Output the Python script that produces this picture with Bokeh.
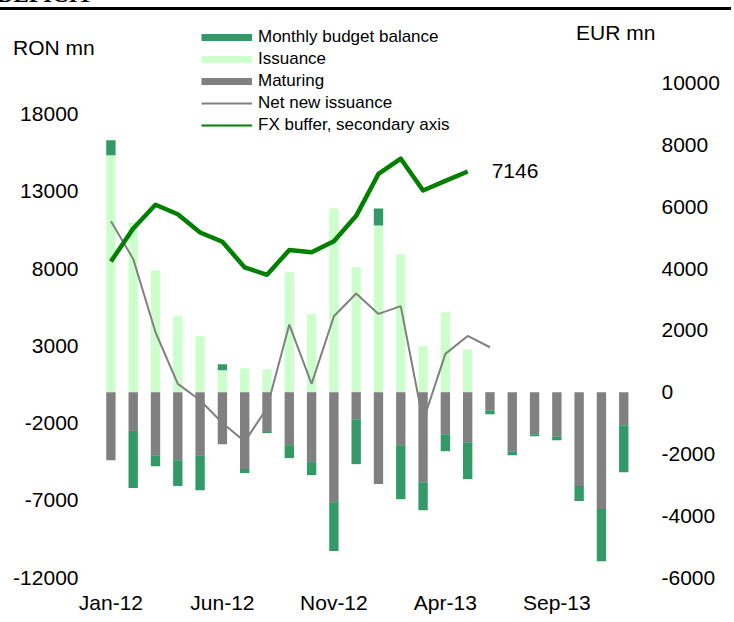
import numpy as np
from bokeh.plotting import figure
from bokeh.models import (Range1d, LinearAxis, FixedTicker, Legend, LegendItem,
                          Label, Div, ColumnDataSource)
from bokeh.layouts import column
from bokeh.embed import file_html
from bokeh.resources import INLINE

# ---------------- data ----------------
months = ["Jan-12", "Feb-12", "Mar-12", "Apr-12", "May-12", "Jun-12",
          "Jul-12", "Aug-12", "Sep-12", "Oct-12", "Nov-12", "Dec-12",
          "Jan-13", "Feb-13", "Mar-13", "Apr-13", "May-13", "Jun-13",
          "Jul-13", "Aug-13", "Sep-13", "Oct-13", "Nov-13", "Dec-13"]

# RON mn
issuance = [15340, 11000, 7900, 4920, 3620, 1420, 1550, 1490, 7770, 5050,
            11900, 8090, 10800, 8930, 2980, 5180, 2780, 0, 0, 0, 0, 0, 0, 0]
maturing = [4400, 2520, 4080, 4400, 4080, 3370, 4980, 2520, 3430, 4530,
            7120, 1750, 5950, 3430, 5830, 2720, 3240, 1170, 3820, 2720,
            2850, 6080, 7570, 2140]
budget_balance = [970, -3690, -710, -1680, -2270, 390, -260, -130, -840, -840,
                  -3170, -2910, 1100, -3500, -1810, -1100, -2390, -260, -260,
                  -130, -260, -970, -3370, -3040]
net_new_issuance = [11070, 8630, 3880, 540, -520, -2000, -3200, -1030, 4380,
                    540, 4920, 6390, 5070, 5570, -1880, 2480, 3640, 2910]
# EUR mn (secondary axis)
fx_buffer = [4230, 5300, 6070, 5760, 5170, 4870, 4040, 3800, 4600, 4530,
             4890, 5710, 7070, 7560, 6530, 6840, 7146]

left_ticks = [-12000, -7000, -2000, 3000, 8000, 13000, 18000]
right_ticks = [-6000, -4000, -2000, 0, 2000, 4000, 6000, 8000, 10000]
x_tick_labels = ["Jan-12", "Jun-12", "Nov-12", "Apr-13", "Sep-13"]

# ---------------- derived table ----------------
x = np.arange(len(months))
iss = np.array(issuance, dtype=float)
mat = -np.array(maturing, dtype=float)
bal = np.array(budget_balance, dtype=float)
bal_bottom = np.where(bal >= 0, iss, mat + bal)
bal_top = np.where(bal >= 0, iss + bal, mat)

src = ColumnDataSource(dict(x=x, iss=iss, mat=mat, bal_bottom=bal_bottom,
                            bal_top=bal_top, zero=np.zeros(len(x))))

FONT = "Liberation Sans"
FS = "21px"
C_BAL, C_ISS, C_MAT = "#339966", "#CCFFCC", "#808080"
C_NET, C_FX = "#808080", "#008000"

p = figure(width=722, height=603, x_range=Range1d(-1.05, 24.2),
           y_range=Range1d(-12000, 23680), output_backend="svg",
           toolbar_location=None, min_border_left=87, min_border_right=69,
           min_border_top=13, min_border_bottom=37)
p.extra_y_ranges = {"fx": Range1d(-6000, 11840)}
p.outline_line_color = None
p.grid.visible = False
p.background_fill_alpha = 0
p.border_fill_alpha = 0

W = 0.42
r_iss = p.vbar(x="x", bottom="zero", top="iss", width=W, source=src,
               fill_color=C_ISS, line_color=None)
r_mat = p.vbar(x="x", bottom="mat", top="zero", width=W, source=src,
               fill_color=C_MAT, line_color=None)
r_bal = p.vbar(x="x", bottom="bal_bottom", top="bal_top", width=W, source=src,
               fill_color=C_BAL, line_color=None)

r_net = p.line(x[:len(net_new_issuance)], net_new_issuance, line_color=C_NET,
               line_width=2)
r_fx = p.line(x[:len(fx_buffer)], fx_buffer, line_color=C_FX, line_width=4.5,
              y_range_name="fx", line_join="round")

# legend proxies (draw nothing in the plot: all-NaN y)
nan2 = [np.nan, np.nan]
lg_bal = p.line([0, 1], nan2, line_color=C_BAL, line_width=7)
lg_iss = p.line([0, 1], nan2, line_color=C_ISS, line_width=7)
lg_mat = p.line([0, 1], nan2, line_color=C_MAT, line_width=7)
lg_net = p.line([0, 1], nan2, line_color=C_NET, line_width=2)
lg_fx = p.line([0, 1], nan2, line_color=C_FX, line_width=2)

# axes
yl = p.yaxis[0]
yl.ticker = FixedTicker(ticks=left_ticks)
yl.major_label_overrides = {t: str(t) for t in left_ticks}
yr = LinearAxis(y_range_name="fx", ticker=FixedTicker(ticks=right_ticks))
yr.major_label_overrides = {t: str(t) for t in right_ticks}
p.add_layout(yr, "right")
xa = p.xaxis[0]
xa.ticker = FixedTicker(ticks=[months.index(m) for m in x_tick_labels])
xa.major_label_overrides = {months.index(m): m for m in x_tick_labels}

for ax in (yl, yr, xa):
    ax.axis_line_color = None
    ax.major_tick_line_color = None
    ax.minor_tick_line_color = None
    ax.major_tick_out = 0
    ax.major_tick_in = 0
    ax.minor_tick_out = 0
    ax.minor_tick_in = 0
    ax.major_label_text_font = FONT
    ax.major_label_text_font_size = FS
    ax.major_label_text_color = "black"
yl.major_label_standoff = 9
yr.major_label_standoff = 11
xa.major_label_standoff = 13

# legend
legend = Legend(items=[
    LegendItem(label="Monthly budget balance", renderers=[lg_bal]),
    LegendItem(label="Issuance", renderers=[lg_iss]),
    LegendItem(label="Maturing", renderers=[lg_mat]),
    LegendItem(label="Net new issuance", renderers=[lg_net]),
    LegendItem(label="FX buffer, secondary axis", renderers=[lg_fx]),
], location=(114, 442), border_line_color=None, background_fill_alpha=0,
    padding=0, margin=0, spacing=2, glyph_width=51, glyph_height=20,
    label_height=20, label_standoff=6, label_text_font=FONT,
    label_text_font_size="17px", label_text_color="black")
p.add_layout(legend)

# end-of-line value label
p.add_layout(Label(x=len(fx_buffer) - 1, y=fx_buffer[-1], y_range_name="fx",
                   x_offset=24, text=str(fx_buffer[-1]), text_font=FONT,
                   text_font_size=FS, text_baseline="middle",
                   text_color="black"))

# header strip: cut-off title, rule line and unit captions
hdr = (
    '<div style="position:absolute;left:-8px;top:-22px;z-index:10;'
    'font:bold 23px/1 \'Liberation Serif\';color:black;white-space:nowrap;">'
    'DEFICIT</div>'
    '<div style="position:absolute;left:-8px;top:2px;width:734px;height:3px;'
    'background:black;z-index:10;"></div>'
    '<div style="position:absolute;left:8px;top:32px;z-index:10;'
    'font:21px/1 \'Liberation Sans\';color:black;white-space:nowrap;">'
    'RON mn</div>'
    '<div style="position:absolute;left:571px;top:17px;z-index:10;'
    'font:21px/1 \'Liberation Sans\';color:black;white-space:nowrap;">'
    'EUR mn</div>'
)
top = Div(text=hdr, width=718, height=3, styles={"overflow": "visible"})

layout = column(top, p)
open("out.html", "w").write(file_html(layout, INLINE))
